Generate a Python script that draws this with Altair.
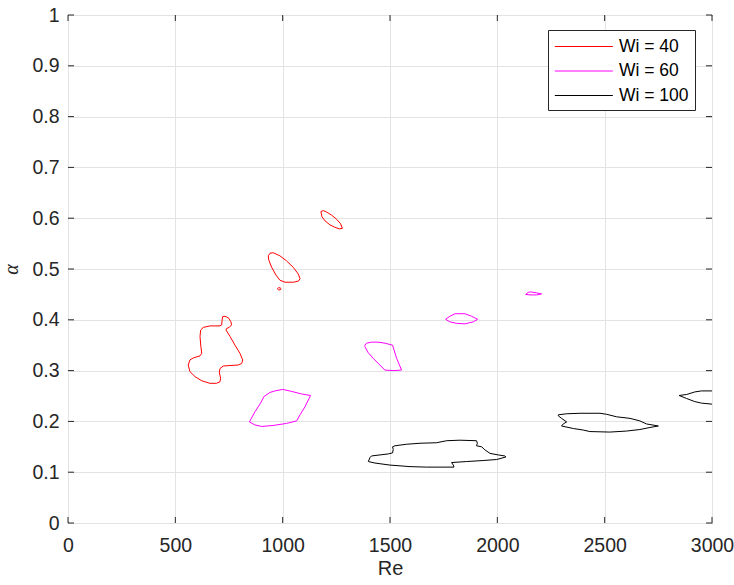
import altair as alt
import pandas as pd

# ---- data ----
series_names = ["Wi = 40", "Wi = 60", "Wi = 100"]
series_colors = ["#ff0000", "#ff00ff", "#000000"]

# Wi = 40 contours
r40a_re = [1178, 1189, 1205, 1228, 1251, 1270, 1278, 1264, 1244, 1220, 1197, 1183, 1178]
r40a_al = [0.613, 0.615, 0.612, 0.606, 0.598, 0.589, 0.580, 0.579, 0.582, 0.587, 0.595, 0.603, 0.613]

r40b_re = [941, 956, 987, 1018, 1050, 1073, 1081, 1073, 1050, 1011, 987, 969, 949, 935, 933, 941]
r40b_al = [0.531, 0.532, 0.526, 0.516, 0.503, 0.490, 0.481, 0.476, 0.474, 0.474, 0.478, 0.488, 0.503, 0.518, 0.526, 0.531]

r40c_re = [975, 980, 988, 993, 988, 980, 975]
r40c_al = [0.461, 0.463, 0.463, 0.461, 0.459, 0.459, 0.461]

r40d_re = [720, 731, 747, 759, 762, 751, 739, 736, 755, 778, 801, 814, 809, 793, 755, 723, 708, 705, 711, 708,
           692, 661, 623, 592, 568, 560, 568, 584, 615, 623, 619, 615, 618, 630, 661, 708, 716, 717, 720]
r40d_al = [0.406, 0.407, 0.404, 0.396, 0.390, 0.385, 0.383, 0.380, 0.367, 0.350, 0.334, 0.321, 0.314, 0.311, 0.310,
           0.309, 0.304, 0.296, 0.285, 0.278, 0.275, 0.275, 0.280, 0.288, 0.298, 0.311, 0.321, 0.325, 0.329, 0.334,
           0.347, 0.367, 0.380, 0.385, 0.388, 0.388, 0.390, 0.396, 0.406]

# Wi = 60 contours
m60a_re = [845, 871, 897, 913, 941, 964, 1000, 1042, 1088, 1130, 1104, 1081, 1065, 1018, 956, 902, 871, 845]
m60a_al = [0.199, 0.219, 0.236, 0.249, 0.257, 0.260, 0.263, 0.259, 0.254, 0.251, 0.229, 0.213, 0.201, 0.196,
           0.192, 0.190, 0.193, 0.199]

m60b_re = [1383, 1391, 1414, 1445, 1476, 1512, 1531, 1554, 1515, 1476, 1453, 1422, 1399, 1383, 1383]
m60b_al = [0.350, 0.354, 0.356, 0.356, 0.354, 0.350, 0.324, 0.301, 0.300, 0.301, 0.311, 0.324, 0.335, 0.347, 0.350]

m60c_re = [1759, 1779, 1803, 1849, 1880, 1908, 1888, 1849, 1810, 1779, 1759]
m60c_al = [0.401, 0.407, 0.412, 0.412, 0.407, 0.401, 0.396, 0.392, 0.393, 0.396, 0.401]

m60d_re = [2132, 2144, 2155, 2183, 2206, 2183, 2152, 2132]
m60d_al = [0.450, 0.454, 0.455, 0.453, 0.451, 0.449, 0.449, 0.450]

# Wi = 100 contours
k100a_re = [1399, 1407, 1414, 1453, 1492, 1512, 1515, 1512, 1523, 1577, 1640, 1717, 1764, 1826, 1903, 1907, 1903,
            1927, 1942, 1966, 2004, 2035, 2040, 1997, 1934, 1857, 1787, 1795, 1798, 1733, 1671, 1593, 1500, 1430, 1399]
k100a_al = [0.121, 0.129, 0.132, 0.134, 0.136, 0.138, 0.145, 0.150, 0.152, 0.155, 0.157, 0.158, 0.162, 0.163, 0.162,
            0.157, 0.152, 0.150, 0.144, 0.137, 0.134, 0.132, 0.130, 0.125, 0.123, 0.121, 0.119, 0.114, 0.110, 0.110,
            0.110, 0.111, 0.114, 0.118, 0.121]

k100b_re = [2284, 2323, 2385, 2478, 2509, 2556, 2618, 2664, 2695, 2750, 2711, 2664, 2602, 2524, 2431, 2400, 2354,
            2299, 2307, 2323, 2299, 2284, 2284]
k100b_al = [0.213, 0.215, 0.216, 0.216, 0.214, 0.209, 0.206, 0.201, 0.195, 0.191, 0.188, 0.184, 0.181, 0.179, 0.180,
            0.183, 0.186, 0.191, 0.195, 0.199, 0.206, 0.211, 0.213]

k100c_re = [3000, 2951, 2920, 2882, 2847, 2882, 2920, 2951, 3000]
k100c_al = [0.260, 0.260, 0.258, 0.253, 0.251, 0.245, 0.239, 0.236, 0.234]

x_ticks = [0, 500, 1000, 1500, 2000, 2500, 3000]
y_ticks = [0, 0.1, 0.2, 0.3, 0.4, 0.5, 0.6, 0.7, 0.8, 0.9, 1]

contours = [
    ("Wi = 40", "r40a", r40a_re, r40a_al),
    ("Wi = 40", "r40b", r40b_re, r40b_al),
    ("Wi = 40", "r40c", r40c_re, r40c_al),
    ("Wi = 40", "r40d", r40d_re, r40d_al),
    ("Wi = 60", "m60a", m60a_re, m60a_al),
    ("Wi = 60", "m60b", m60b_re, m60b_al),
    ("Wi = 60", "m60c", m60c_re, m60c_al),
    ("Wi = 60", "m60d", m60d_re, m60d_al),
    ("Wi = 100", "k100a", k100a_re, k100a_al),
    ("Wi = 100", "k100b", k100b_re, k100b_al),
    ("Wi = 100", "k100c", k100c_re, k100c_al),
]

rows = []
for s, cid, res, als in contours:
    for i, (r, a) in enumerate(zip(res, als)):
        rows.append({"re": r, "alpha": a, "series": s, "contour": cid, "idx": i})
df = pd.DataFrame(rows)

W, H = 644, 508
AX = "#262626"
FONT = "Liberation Sans"

xscale = alt.Scale(domain=[0, 3000], nice=False, zero=False)
yscale = alt.Scale(domain=[0, 1], nice=False, zero=False)

lines = alt.Chart(df).mark_line(strokeWidth=1, clip=True).encode(
    x=alt.X("re:Q", scale=xscale, title="Re",
            axis=alt.Axis(values=x_ticks, format="d", labelPadding=13, titlePadding=4,
                          labelFlush=False, labelOverlap=False)),
    y=alt.Y("alpha:Q", scale=yscale, title="α",
            axis=alt.Axis(values=y_ticks, format="~g", labelPadding=9, titlePadding=10,
                          labelFlush=False, labelOverlap=False,
                          titleFont="Liberation Serif", titleFontStyle="italic")),
    color=alt.Color("series:N",
                    scale=alt.Scale(domain=series_names, range=series_colors),
                    legend=alt.Legend(orient="none", legendX=480, legendY=15, title=None,
                                      symbolType="M-1,0H5", symbolSize=374, symbolStrokeWidth=1,
                                      labelFontSize=17.5, labelFont=FONT, labelColor="#000000",
                                      strokeColor=AX, fillColor="white", padding=6,
                                      labelOffset=44, rowPadding=5.5)),
    detail="contour:N",
    order="idx:Q",
)

xt = pd.DataFrame({"re": x_ticks})
yt = pd.DataFrame({"alpha": y_ticks})

bottom_ticks = alt.Chart(xt).mark_rule(color=AX, strokeWidth=1).encode(
    x=alt.X("re:Q", scale=xscale), y=alt.value(H), y2=alt.value(H - 6))
top_ticks = alt.Chart(xt).mark_rule(color=AX, strokeWidth=1).encode(
    x=alt.X("re:Q", scale=xscale), y=alt.value(0), y2=alt.value(6))
left_ticks = alt.Chart(yt).mark_rule(color=AX, strokeWidth=1).encode(
    y=alt.Y("alpha:Q", scale=yscale), x=alt.value(0), x2=alt.value(6))
right_ticks = alt.Chart(yt).mark_rule(color=AX, strokeWidth=1).encode(
    y=alt.Y("alpha:Q", scale=yscale), x=alt.value(W), x2=alt.value(W - 6))

chart = alt.layer(lines, bottom_ticks, top_ticks, left_ticks, right_ticks).properties(
    width=W, height=H,
    autosize=alt.AutoSizeParams(type="none"),
    padding={"left": 68, "top": 15, "right": 22, "bottom": 62},
    background="white",
).configure_view(
    stroke=AX, strokeWidth=1
).configure_axis(
    domain=False, ticks=False, grid=True, gridColor="#e3e3e3", gridWidth=1,
    labelFont=FONT, labelFontSize=19.5, labelColor=AX,
    titleFont=FONT, titleFontSize=20, titleColor=AX, titleFontWeight="normal",
)

chart.save("out.html", embed_options={"renderer": "svg", "actions": False})
